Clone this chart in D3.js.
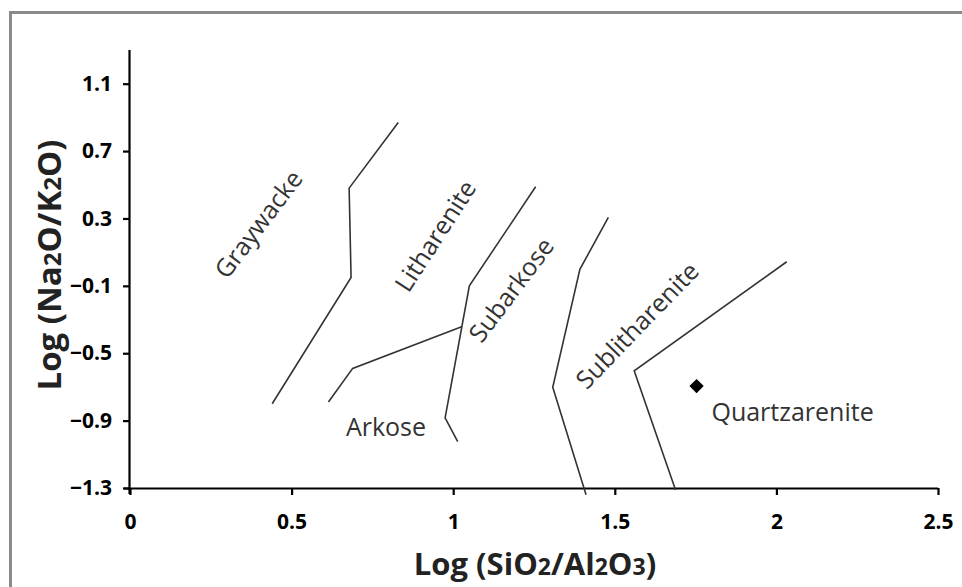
<!DOCTYPE html>
<html>
<head>
<meta charset="utf-8">
<script src="https://cdn.jsdelivr.net/npm/d3@7"></script>
<style>
  html, body { margin: 0; padding: 0; background: #fff; }
  svg { display: block; }
  text { font-family: "Open Sans", "Noto Sans", sans-serif; }
</style>
</head>
<body>
<svg id="chart" width="962" height="587"></svg>
<script>
// Axis ticks
const xTicks = [0, 0.5, 1, 1.5, 2, 2.5];
const yTicks = [-1.3, -0.9, -0.5, -0.1, 0.3, 0.7, 1.1];

// Field boundaries (log SiO2/Al2O3, log Na2O/K2O)
const graywackeLitharenite = [[0.44, -0.80], [0.684, -0.05], [0.678, 0.48], [0.83, 0.87]];
const arkoseSubarkose = [[0.614, -0.79], [0.689, -0.59], [1.026, -0.343]];
const litharenitesubarkose = [[1.255, 0.488], [1.05, -0.10], [0.975, -0.883], [1.014, -1.025]];
const subarkoseSublitharenite = [[1.48, 0.307], [1.392, -0.002], [1.308, -0.702], [1.411, -1.34]];
const sublithareniteQuartzarenite = [[2.032, 0.043], [1.56, -0.604], [1.688, -1.312]];

// Sample
const samples = [[1.753, -0.695]];

// Field names with their anchor positions and text rotation
const fieldNames = ["Graywacke", "Litharenite", "Subarkose", "Sublitharenite", "Arkose", "Quartzarenite"];
const fieldPos = [[0.395, 0.27], [0.942, 0.20], [1.177, -0.12], [1.567, -0.33], [0.792, -0.93], [2.05, -0.84]];
const fieldAngle = [-53, -57, -53, -46, 0, 0];

const svg = d3.select("#chart");

// Outer frame
svg.append("rect")
  .attr("x", 10.5).attr("y", 12.5)
  .attr("width", 1000).attr("height", 1000)
  .attr("fill", "none")
  .attr("stroke", "#8a8a8a")
  .attr("stroke-width", 3);

const x = d3.scaleLinear().domain([0, 2.5]).range([130, 938]);
const y = d3.scaleLinear().domain([-1.3, 1.3]).range([488, 50]);

// X axis
const xAxis = svg.append("g")
  .attr("transform", `translate(0,${y(-1.3)})`)
  .call(d3.axisBottom(x).tickValues(xTicks).tickSize(7).tickSizeOuter(0)
        .tickFormat(d => d3.format("")(d)));
xAxis.select(".domain").attr("stroke", "#000").attr("stroke-width", 2.2)
  .attr("d", `M${x(0) - 6},0.5H${x(2.5)}`);
xAxis.selectAll(".tick line").attr("stroke", "#000").attr("stroke-width", 2.2);
xAxis.selectAll(".tick text")
  .attr("y", 26)
  .attr("font-size", 21).attr("font-weight", "bold").attr("fill", "#000")
  .attr("font-family", "'Open Sans', sans-serif");

// Y axis
const yAxis = svg.append("g")
  .attr("transform", `translate(${x(0)},0)`)
  .call(d3.axisLeft(y).tickValues(yTicks).tickSize(7).tickSizeOuter(0)
        .tickFormat(d => d3.format(".1f")(d)));
yAxis.select(".domain").attr("stroke", "#000").attr("stroke-width", 2.2)
  .attr("d", `M-0.5,${y(1.3)}V${y(-1.3) + 6}`);
yAxis.selectAll(".tick line").attr("stroke", "#000").attr("stroke-width", 2.2);
yAxis.selectAll(".tick text")
  .attr("x", -18)
  .attr("font-size", 21).attr("font-weight", "bold").attr("fill", "#000")
  .attr("font-family", "'Open Sans', sans-serif");

// Boundary lines
const line = d3.line().x(d => x(d[0])).y(d => y(d[1]));
const boundaries = [graywackeLitharenite, arkoseSubarkose, litharenitesubarkose,
                    subarkoseSublitharenite, sublithareniteQuartzarenite];
svg.append("g").selectAll("path")
  .data(boundaries)
  .join("path")
  .attr("d", line)
  .attr("fill", "none")
  .attr("stroke", "#333")
  .attr("stroke-width", 1.6);

// Field names
svg.append("g").selectAll("text")
  .data(fieldNames)
  .join("text")
  .attr("transform", (d, i) => `translate(${x(fieldPos[i][0])},${y(fieldPos[i][1])}) rotate(${fieldAngle[i]})`)
  .attr("text-anchor", "middle")
  .attr("dominant-baseline", "central")
  .attr("font-size", 25)
  .attr("fill", "#333")
  .text(d => d);

// Sample points
svg.append("g").selectAll("path")
  .data(samples)
  .join("path")
  .attr("transform", d => `translate(${x(d[0])},${y(d[1])})`)
  .attr("d", d3.symbol(d3.symbolDiamond2, 130))
  .attr("fill", "#000");

// Axis titles
const xt = svg.append("text")
  .attr("x", 535).attr("y", 575)
  .attr("text-anchor", "middle")
  .attr("font-size", 31).attr("font-weight", "bold").attr("fill", "#222");
xt.append("tspan").text("Log (SiO");
xt.append("tspan").attr("font-size", 23).text("2");
xt.append("tspan").text("/Al");
xt.append("tspan").attr("font-size", 23).text("2");
xt.append("tspan").text("O");
xt.append("tspan").attr("font-size", 23).text("3");
xt.append("tspan").text(")");

const yt = svg.append("text")
  .attr("transform", "translate(61,265) rotate(-90)")
  .attr("text-anchor", "middle")
  .attr("font-size", 33).attr("font-weight", "bold").attr("fill", "#222");
yt.append("tspan").text("Log (Na");
yt.append("tspan").attr("font-size", 24).text("2");
yt.append("tspan").text("O/K");
yt.append("tspan").attr("font-size", 24).text("2");
yt.append("tspan").text("O)");
</script>
</body>
</html>
